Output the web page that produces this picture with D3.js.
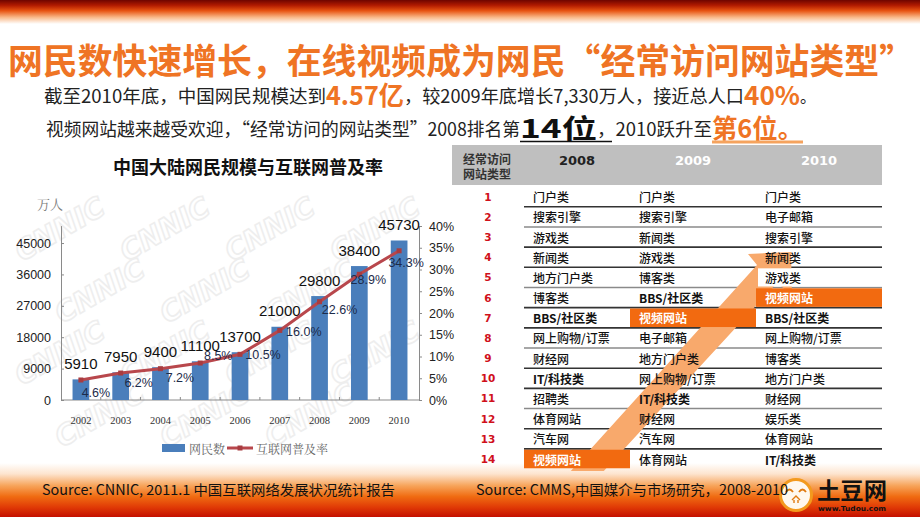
<!DOCTYPE html>
<html><head><meta charset="utf-8">
<script src="https://cdn.jsdelivr.net/npm/d3@7"></script>
<style>body{margin:0;background:#fff;}svg{display:block;}</style>
</head><body>
<svg id="c" width="920" height="517"></svg>
<script>
// ---------- DATA ----------
const years = ["2002","2003","2004","2005","2006","2007","2008","2009","2010"];
const netizens = [5910, 7950, 9400, 11100, 13700, 21000, 29800, 38400, 45730];   // 万人
const penetration = [4.6, 6.2, 7.2, 8.5, 10.5, 16.0, 22.6, 28.9, 34.3];          // %
const leftTicks = [0, 9000, 18000, 27000, 36000, 45000];
const rightTicks = [0, 5, 10, 15, 20, 25, 30, 35, 40];
const seriesNames = ["网民数", "互联网普及率"];

const tableYears = ["2008", "2009", "2010"];
const ranks = [1,2,3,4,5,6,7,8,9,10,11,12,13,14];
const sites2008 = ["门户类","搜索引擎","游戏类","新闻类","地方门户类","博客类","BBS/社区类","网上购物/订票","财经网","IT/科技类","招聘类","体育网站","汽车网","视频网站"];
const sites2009 = ["门户类","搜索引擎","新闻类","游戏类","博客类","BBS/社区类","视频网站","电子邮箱","地方门户类","网上购物/订票","IT/科技类","财经网","汽车网","体育网站"];
const sites2010 = ["门户类","电子邮箱","搜索引擎","新闻类","游戏类","视频网站","BBS/社区类","网上购物/订票","博客类","地方门户类","财经网","娱乐类","体育网站","IT/科技类"];
const highlightSite = "视频网站";

// ---------- LAYOUT ----------
const CJK = "'Noto Sans CJK SC','Noto Sans',sans-serif";
const NARROW = "'Liberation Sans Narrow','Arial Narrow','Liberation Sans',sans-serif";
const ORANGE = "#EF7424";
const svg = d3.select("#c");
const defs = svg.append("defs");

function grad(id, stops){
  const g = defs.append("linearGradient").attr("id", id).attr("x1",0).attr("y1",0).attr("x2",0).attr("y2",1);
  stops.forEach(([o,c]) => g.append("stop").attr("offset", o).attr("stop-color", c));
}
grad("topg", [[0,"#6e0500"],[0.22,"#b01a00"],[0.45,"#e85412"],[0.72,"#f9b888"],[1,"#ffffff"]]);
grad("botg", [[0,"#ffffff"],[0.2,"#fde4cf"],[0.42,"#f7a45a"],[0.62,"#f06c12"],[0.82,"#e03a06"],[1,"#c40f00"]]);

svg.append("rect").attr("x",0).attr("y",0).attr("width",920).attr("height",24).attr("fill","url(#topg)");
svg.append("rect").attr("x",0).attr("y",463).attr("width",920).attr("height",54).attr("fill","url(#botg)");

// ---------- TITLE + HEADLINES ----------
svg.append("text").attr("x",8).attr("y",74).attr("textLength",906).attr("lengthAdjust","spacingAndGlyphs")
  .attr("font-family",CJK).attr("font-weight",700).attr("font-size",35).attr("fill",ORANGE)
  .text("网民数快速增长，在线视频成为网民“经常访问网站类型”");

const line2 = [
  {t:"截至2010年底，中国网民规模达到", x0:44, x1:326, big:false, col:"#222"},
  {t:"4.57亿", x0:326, x1:404, big:true, col:ORANGE},
  {t:"，较2009年底增长7,330万人，接近总人口", x0:404, x1:744, big:false, col:"#222"},
  {t:"40%", x0:744, x1:800, big:true, col:ORANGE},
  {t:"。", x0:800, x1:816, big:false, col:"#222"}
];
const line3 = [
  {t:"视频网站越来越受欢迎，“经常访问的网站类型”2008排名第", x0:46, x1:520, big:false, col:"#222"},
  {t:"14位", x0:520, x1:597, big:true, col:"#111"},
  {t:"，2010跃升至", x0:597, x1:712, big:false, col:"#222"},
  {t:"第6位。", x0:712, x1:803, big:true, col:ORANGE}
];
function drawLine(segs, base){
  segs.forEach(s => {
    svg.append("text").attr("x", s.x0).attr("y", base + (s.big ? 2 : 0))
      .attr("textLength", s.x1 - s.x0).attr("lengthAdjust","spacingAndGlyphs")
      .attr("font-family", CJK).attr("font-size", s.big ? 26 : 18)
      .attr("font-weight", s.big ? 700 : 400).attr("fill", s.col).text(s.t);
  });
}
drawLine(line2, 103);
drawLine(line3, 136);
svg.append("line").attr("x1",520).attr("x2",612).attr("y1",141.5).attr("y2",141.5).attr("stroke","#111").attr("stroke-width",1.5);
svg.append("line").attr("x1",712).attr("x2",803).attr("y1",142).attr("y2",142).attr("stroke","#F5A35E").attr("stroke-width",3);

// ---------- CHART ----------
// watermark (decoration)
const wm = svg.append("g");
for (let r = 0; r < 4; r++) for (let c = 0; c < 4; c++) {
  const wx = 22 + c*105 + (r%2)*40, wy = 262 + r*62;
  if (wx + 100 > 448) continue;
  wm.append("text").attr("transform",`translate(${wx},${wy}) rotate(-30)`)
    .attr("font-family","'DejaVu Sans',sans-serif").attr("font-weight",700).attr("font-style","italic")
    .attr("font-size",28).attr("fill","none").attr("stroke","#eeeeee").attr("stroke-width",1.6).text("CNNIC");
}

svg.append("text").attr("x",113).attr("y",174).attr("textLength",270).attr("lengthAdjust","spacingAndGlyphs")
  .attr("font-family",CJK).attr("font-weight",700).attr("font-size",18).attr("fill","#111")
  .text("中国大陆网民规模与互联网普及率");

const x = d3.scaleBand().domain(years).range([61,419]).paddingInner(0.58).paddingOuter(0.29);
const yL = d3.scaleLinear().domain([0,50000]).range([400,225.6]);
const yR = d3.scaleLinear().domain([0,40]).range([400,226]);

svg.append("text").attr("x",37).attr("y",203).attr("dominant-baseline","central")
  .attr("font-family","'Noto Serif CJK SC','Noto Sans CJK SC',serif").attr("font-size",13).attr("fill","#7a7a7a").text("万人");

const axL = svg.append("g").attr("transform","translate(61,0)")
  .call(d3.axisLeft(yL).tickValues(leftTicks).tickSize(-3).tickSizeOuter(0).tickPadding(10).tickFormat(d3.format("d")));
const axR = svg.append("g").attr("transform","translate(419,0)")
  .call(d3.axisRight(yR).tickValues(rightTicks).tickSize(3).tickSizeOuter(0).tickPadding(7).tickFormat(d => d + "%"));
const axB = svg.append("g").attr("transform","translate(0,400)")
  .call(d3.axisBottom(x).tickSize(0).tickPadding(17));
[axL, axR, axB].forEach(a => {
  a.select(".domain").attr("stroke","#8a8a8a");
  a.selectAll(".tick line").attr("stroke","#8a8a8a");
  a.selectAll("text").attr("font-family",NARROW).attr("font-size",12.5).attr("fill","#222");
});
axB.selectAll("text").attr("font-family","'Liberation Serif',serif").attr("font-size",10.5).attr("fill","#333");
axB.select(".domain").attr("d","M61,0H419");
axB.selectAll(".bt").data(years.slice(0,-1)).join("line")
  .attr("x1", d => x(d) + x.bandwidth() + x.step()*x.paddingInner()/2)
  .attr("x2", d => x(d) + x.bandwidth() + x.step()*x.paddingInner()/2)
  .attr("y1",0).attr("y2",-3).attr("stroke","#8a8a8a");

const cx = d => x(d) + x.bandwidth()/2;
svg.append("g").selectAll("rect").data(years).join("rect")
  .attr("x", d => x(d)).attr("width", x.bandwidth())
  .attr("y", (d,i) => yL(netizens[i])).attr("height", (d,i) => 400 - yL(netizens[i]))
  .attr("fill","#4A7EBB");
svg.append("g").selectAll("text").data(years).join("text")
  .attr("x", cx).attr("y", (d,i) => yL(netizens[i]) - 16).attr("text-anchor","middle")
  .attr("dominant-baseline","central").attr("font-family",NARROW).attr("font-size",15).attr("fill","#111")
  .text((d,i) => netizens[i]);

const line = d3.line().x((d,i) => cx(years[i])).y(d => yR(d));
svg.append("path").datum(penetration).attr("d", line).attr("fill","none")
  .attr("stroke","#B8474C").attr("stroke-width",3);
svg.append("g").selectAll("rect").data(penetration).join("rect")
  .attr("x",(d,i) => cx(years[i]) - 2.5).attr("y", d => yR(d) - 2.5).attr("width",5).attr("height",5)
  .attr("fill","#A83C40");
const pctOffset = [[15,13],[18,10],[19.5,9],[18,-7],[23,1],[24,2],[20,8],[9,6],[7,12]];
svg.append("g").selectAll("text").data(penetration).join("text")
  .attr("x",(d,i) => cx(years[i]) + pctOffset[i][0]).attr("y",(d,i) => yR(d) + pctOffset[i][1])
  .attr("text-anchor","middle").attr("dominant-baseline","central")
  .attr("font-family",NARROW).attr("font-size",12.5).attr("fill","#1c2b4a")
  .text(d => d.toFixed(1) + "%");

// legend
const lg = svg.append("g");
lg.append("rect").attr("x",162).attr("y",444).attr("width",23).attr("height",8).attr("fill","#4A7EBB");
lg.append("text").attr("x",189).attr("y",448).attr("dominant-baseline","central")
  .attr("font-family","'Noto Serif CJK SC','Noto Sans CJK SC',serif").attr("font-size",12).attr("fill","#666").text(seriesNames[0]);
lg.append("line").attr("x1",227).attr("x2",253).attr("y1",448).attr("y2",448).attr("stroke","#B8474C").attr("stroke-width",3);
lg.append("rect").attr("x",237.5).attr("y",445.5).attr("width",5).attr("height",5).attr("fill","#A83C40");
lg.append("text").attr("x",256).attr("y",448).attr("dominant-baseline","central")
  .attr("font-family","'Noto Serif CJK SC','Noto Sans CJK SC',serif").attr("font-size",12).attr("fill","#666").text(seriesNames[1]);

// ---------- TABLE ----------
const colEdges = [524, 630, 756, 882];
const rankX = 488;
const rowY = d3.scaleLinear().domain([0,13]).range([196.7, 459]);
const rowH = 20.15;
const cols = [sites2008, sites2009, sites2010];

svg.append("rect").attr("x",452).attr("y",145).attr("width",430).attr("height",40).attr("fill","#BFBFBF");
svg.append("text").attr("x",463).attr("y",158.5).attr("dominant-baseline","central")
  .attr("font-family",CJK).attr("font-weight",700).attr("font-size",12).attr("fill","#333").text("经常访问");
svg.append("text").attr("x",463).attr("y",173).attr("dominant-baseline","central")
  .attr("font-family",CJK).attr("font-weight",700).attr("font-size",12).attr("fill","#333").text("网站类型");
svg.append("g").selectAll("text").data(tableYears).join("text")
  .attr("x",(d,i) => (colEdges[i] + colEdges[i+1]) / 2).attr("y",160)
  .attr("text-anchor","middle").attr("dominant-baseline","central")
  .attr("font-family","'DejaVu Sans',sans-serif").attr("font-weight",700).attr("font-size",13)
  .attr("fill",(d,i) => i === 0 ? "#222" : "#fff").text(d => d);

svg.append("g").selectAll("line").data(ranks.slice(0,-1)).join("line")
  .attr("x1",colEdges[0]).attr("x2",colEdges[3])
  .attr("y1",(d,i) => rowY(i) + rowH/2).attr("y2",(d,i) => rowY(i) + rowH/2)
  .attr("stroke",(d,i) => i % 3 === 1 ? "#8a8a8a" : "#333").attr("stroke-width",1.6);

// arrow (decoration) along the 视频网站 path
const arrowPts = [[570.8,471],[757,265],[748,254],[791,252],[792,295],[777,283],[603.8,471]];
svg.append("polygon").attr("points", arrowPts.map(p => p.join(",")).join(" ")).attr("fill","#F8A96C");
svg.append("rect").attr("x",colEdges[2] + 2).attr("y",rowY(4) - rowH/2 + 1).attr("width",colEdges[3] - colEdges[2] - 2)
  .attr("height",rowH - 2).attr("fill","#fff");

cols.forEach((col, ci) => {
  const ri = col.indexOf(highlightSite);
  svg.append("rect").attr("x",colEdges[ci]).attr("y",rowY(ri) - rowH/2 + 0.8)
    .attr("width",colEdges[ci+1] - colEdges[ci]).attr("height",rowH - 1.6).attr("fill","#F26A10");
});

svg.append("g").selectAll("text").data(ranks).join("text")
  .attr("x",rankX).attr("y",(d,i) => rowY(i)).attr("text-anchor","middle").attr("dominant-baseline","central")
  .attr("font-family","'DejaVu Sans',sans-serif").attr("font-weight",700).attr("font-size",10.5)
  .attr("fill","#D0101B").text(d => d);

cols.forEach((col, ci) => {
  svg.append("g").selectAll("text").data(col).join("text")
    .attr("x", colEdges[ci] + 9).attr("y",(d,i) => rowY(i)).attr("dominant-baseline","central")
    .attr("font-family",CJK).attr("font-size",12)
    .attr("font-weight", d => d === highlightSite ? 700 : (/[A-Z]/.test(d) ? 700 : 500))
    .attr("fill", d => d === highlightSite ? "#fff" : "#111").text(d => d);
});

// ---------- FOOTER ----------
const logo = svg.append("g");
logo.append("circle").attr("cx",796).attr("cy",495).attr("r",15.5).attr("fill","#fff8ee").attr("stroke","#F39A1E").attr("stroke-width",3);
logo.append("path").attr("d","M786,492 q3.5,-5 7,0 M799,492 q3.5,-5 7,0").attr("fill","none").attr("stroke","#E07A10").attr("stroke-width",1.8);
logo.append("path").attr("d","M792,500 l4,-4 l4,4 M794,500 v3 M798,500 v3").attr("fill","none").attr("stroke","#E07A10").attr("stroke-width",1.4);
logo.append("text").attr("x",817).attr("y",499).attr("textLength",70).attr("lengthAdjust","spacingAndGlyphs")
  .attr("font-family",CJK).attr("font-weight",700).attr("font-size",23).attr("fill","#111").text("土豆网");
logo.append("text").attr("x",818).attr("y",511).attr("textLength",68).attr("lengthAdjust","spacingAndGlyphs")
  .attr("font-family","'DejaVu Sans',sans-serif").attr("font-weight",700).attr("font-size",7).attr("fill","#111").text("www.Tudou.com");

svg.append("text").attr("x",42).attr("y",495).attr("textLength",353).attr("lengthAdjust","spacingAndGlyphs")
  .attr("font-family",CJK).attr("font-size",14).attr("fill","#111").text("Source: CNNIC, 2011.1 中国互联网络发展状况统计报告");
svg.append("text").attr("x",476).attr("y",495).attr("textLength",312).attr("lengthAdjust","spacingAndGlyphs")
  .attr("font-family",CJK).attr("font-size",14).attr("fill","#111").text("Source: CMMS,中国媒介与市场研究，2008-2010");
</script>
</body></html>
